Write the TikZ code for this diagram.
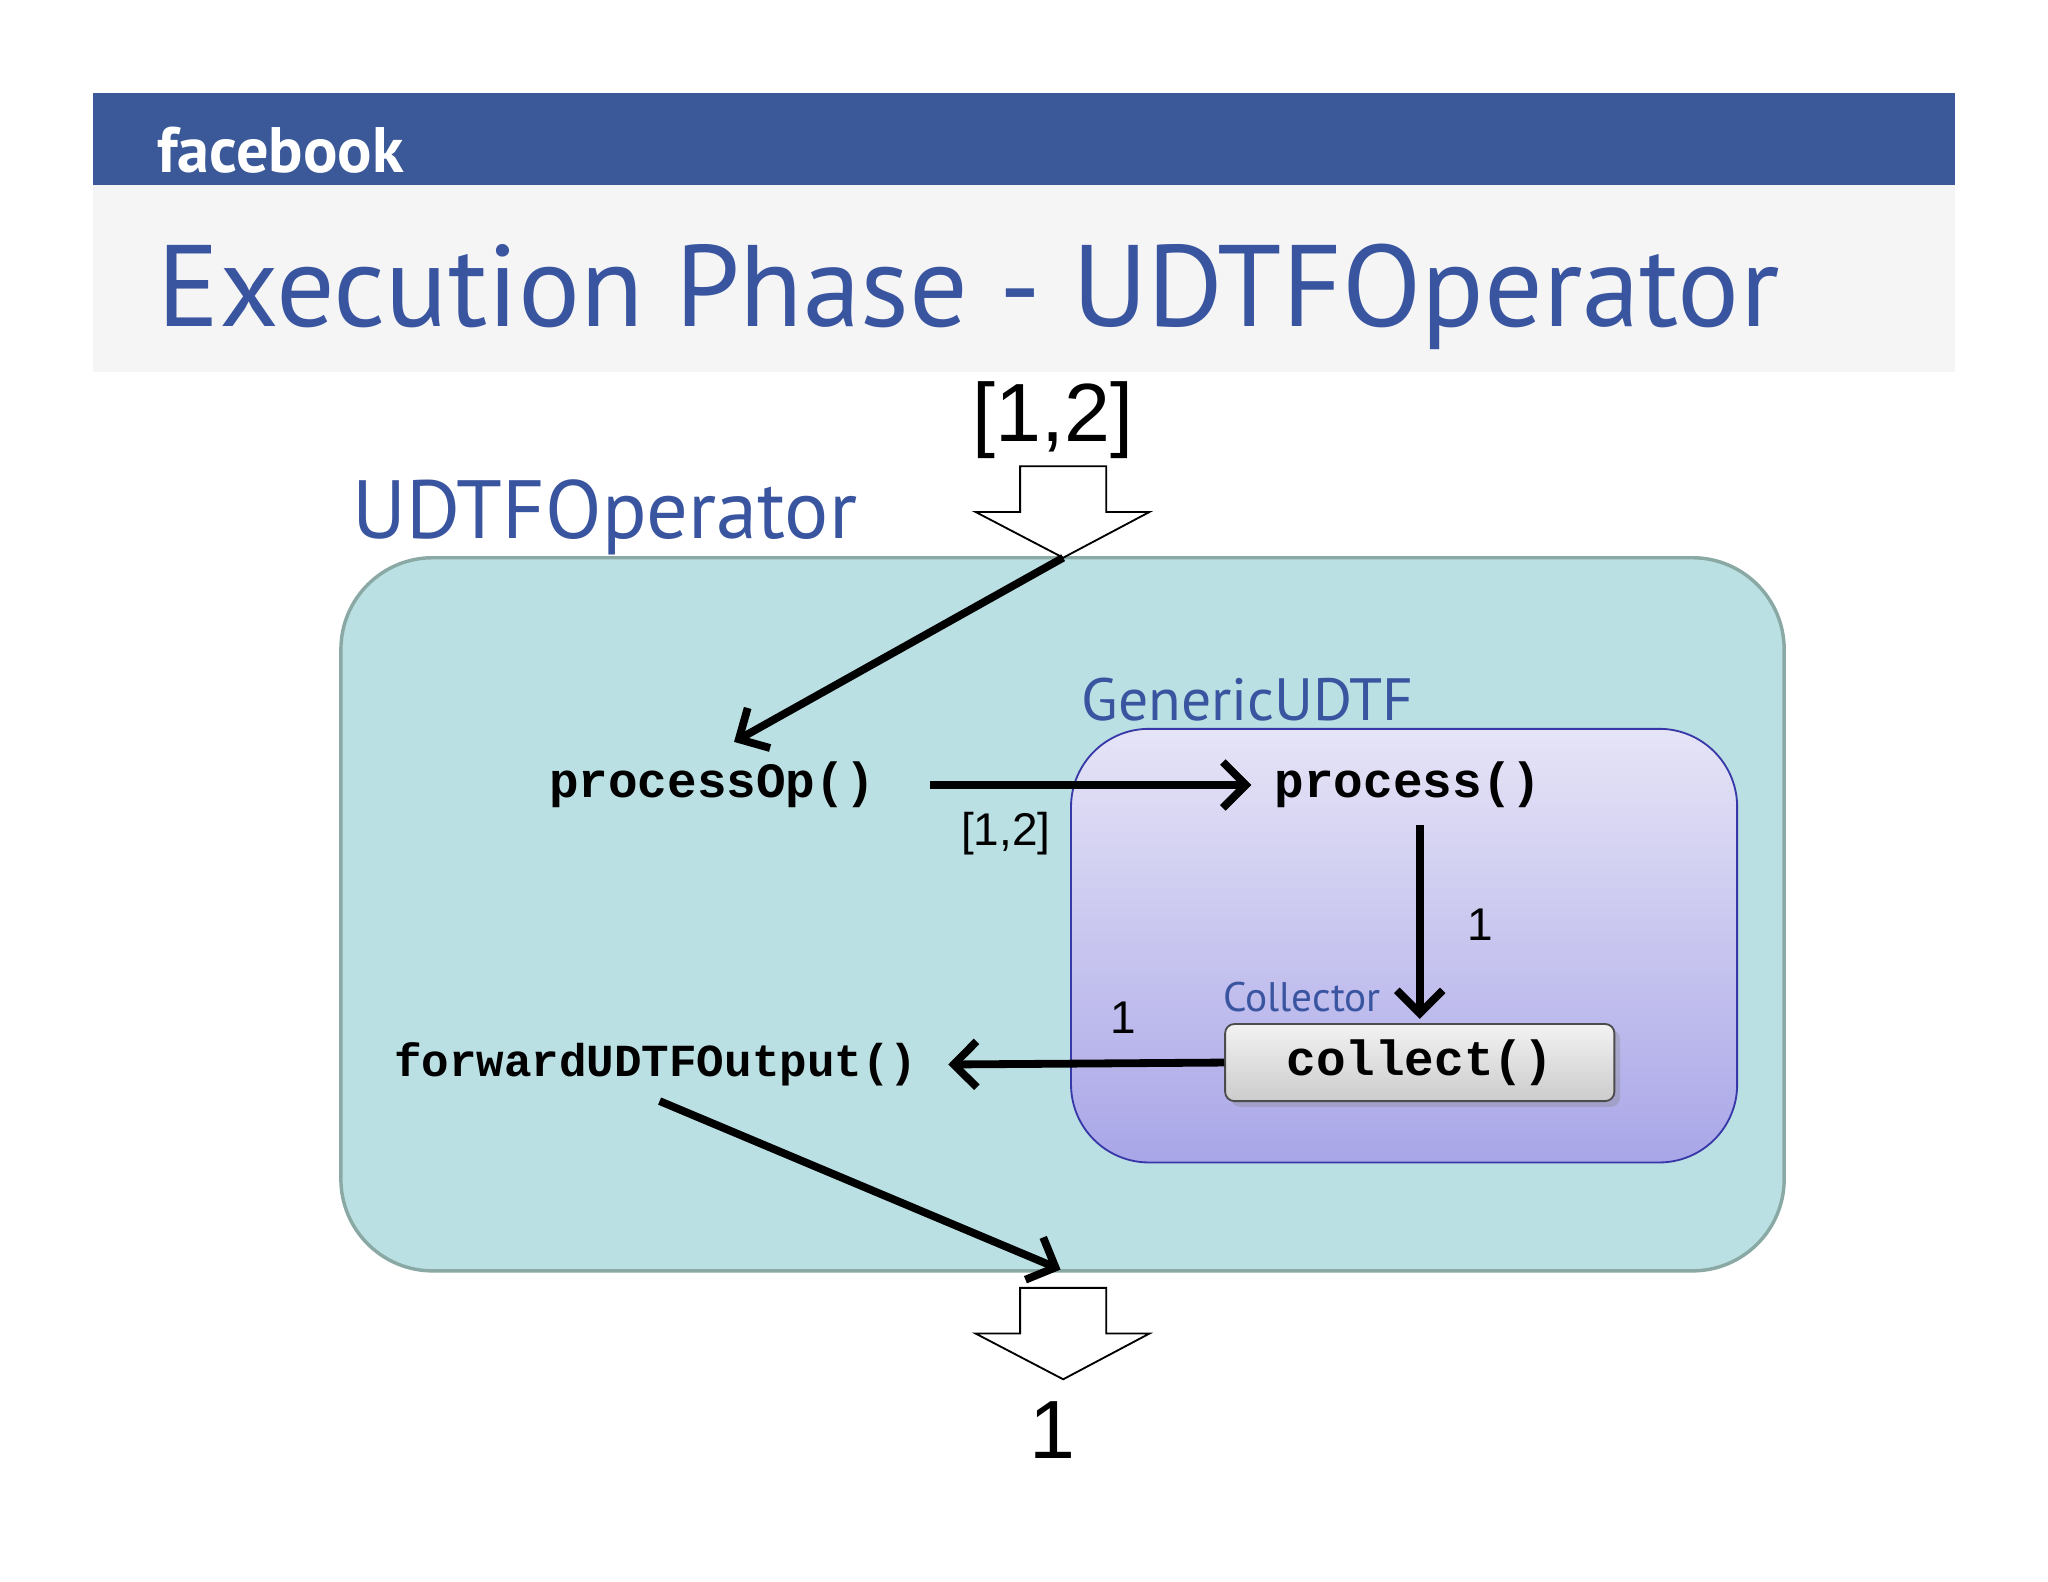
\documentclass[tikz,border=0pt]{standalone}
\usepackage{fontspec}
\setmainfont{PT Sans}
\newfontfamily\monob{Liberation Mono}
\newfontfamily\helv{Liberation Sans}
\usetikzlibrary{arrows.meta,shadows}
\definecolor{fbblue}{HTML}{3B5998}
\definecolor{ttl}{HTML}{3A55A0}
\definecolor{outerfill}{HTML}{BBE0E3}
\definecolor{outerdraw}{HTML}{8AA9A5}
\definecolor{innertop}{HTML}{E6E4F6}
\definecolor{innerbot}{HTML}{A9A6E8}
\definecolor{innerdraw}{HTML}{3838A8}
\tikzset{
  fs/.style={font=\fontsize{#1}{#1}\selectfont},
  hv/.style={font=\helv\fontsize{#1}{#1}\selectfont},
  code/.style={font=\monob\bfseries\fontsize{21.5}{21.5}\selectfont},
  flow/.style={line width=3.4pt,-{Straight Barb[length=10pt,width=20pt,line width=3.4pt]}},
  hollow/.style={draw=black,line width=0.8pt,fill=white},
}
\begin{document}
\begin{tikzpicture}[x=0.02cm,y=-0.02cm]
\useasboundingbox (0,0) rectangle (1568,1211);
\fill[white] (0,0) rectangle (1568,1211);
\fill[fbblue] (71,71) rectangle (1497,142);
\fill[black!4] (71,142) rectangle (1497,285);
\node[anchor=west,text=white,font=\bfseries\fontsize{28}{28}\selectfont] (fb) at (114,115) {facebook};
\node[anchor=base west,text=ttl,fs=50.5] (title) at (114,250) {Execution Phase - UDTFOperator};
% outer box
\node[draw=outerdraw,fill=outerfill,line width=1.5pt,rounded corners=40pt,minimum width=1105*0.02cm,minimum height=546*0.02cm] (outer) at (813.5,700) {};
\node[anchor=base west,text=ttl,fs=36] (udtf) at (264,412) {UDTFOperator};
% top hollow arrow
\draw[hollow] (781,357) -- (847,357) -- (847,392) -- (880,392) -- (814,427) coordinate (topTip) -- (747,392) -- (781,392) -- cycle;
\node[hv=36] (in) at (806,322) {[1,2]};
% bottom hollow arrow
\draw[hollow] (781,986) -- (847,986) -- (847,1021) -- (880,1021) -- (814,1056) -- (747,1021) -- (781,1021) -- cycle;
\node[hv=36] (out) at (806,1095) {1};
% inner box
\shade[top color=innertop,bottom color=innerbot,draw=innerdraw,line width=0.8pt,rounded corners=34pt] (820,558) rectangle (1330,890);
\node[anchor=base west,text=ttl,fs=26] (gen) at (822,552) {GenericUDTF};
% code nodes
\node[code] (pop) at (545,601) {processOp()};
\node[code] (proc) at (1078,601) {process()};
\node[code,font=\monob\bfseries\fontsize{20}{20}\selectfont] (fwd) at (502,815) {forwardUDTFOutput()};
\node[text=ttl,fs=18] (colllbl) at (997,763) {Collector};
\node[draw=black!70,line width=0.8pt,rounded corners=4pt,top color=white!95!black,bottom color=black!20,drop shadow={opacity=0.3},minimum width=298*0.02cm,minimum height=59*0.02cm,code] (coll) at (1087,813.5) {collect()};
% coordinates
\coordinate (a1) at (712,601);
\coordinate (a2) at (958,601);
\coordinate (b1) at (1087,632);
\coordinate (b2) at (1087,780);
\coordinate (c2) at (726,815);
\coordinate (d1) at (505,843);
\coordinate (d2) at (812,972);
\coordinate (e2) at (562,568);
\draw[flow] (topTip) -- (e2);
\draw[flow] (a1) -- (a2);
\draw[flow] (b1) -- (b2);
\draw[flow] (coll.west) -- (c2);
\draw[flow] (d1) -- (d2);
\node[hv=20] (l1) at (770,638) {[1,2]};
\node[hv=20] (l2) at (1133,708) {1};
\node[hv=20] (l3) at (860,779) {1};
\end{tikzpicture}
\end{document}
